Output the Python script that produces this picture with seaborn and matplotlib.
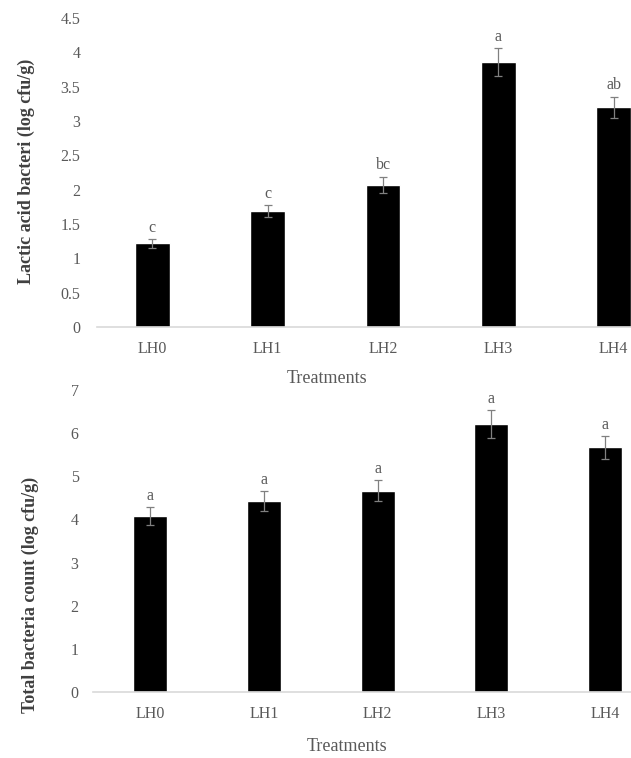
import numpy as np
import seaborn as sns
import matplotlib.pyplot as plt
from matplotlib.ticker import FuncFormatter, MultipleLocator

treatments = ["LH0", "LH1", "LH2", "LH3", "LH4"]

lab_mean = [1.22, 1.69, 2.07, 3.86, 3.20]
lab_err = [0.065, 0.085, 0.12, 0.20, 0.155]
lab_letters = ["c", "c", "bc", "a", "ab"]

tbc_mean = [4.08, 4.42, 4.67, 6.21, 5.67]
tbc_err = [0.21, 0.23, 0.235, 0.32, 0.27]
tbc_letters = ["a", "a", "a", "a", "a"]

sns.set_style("white")
plt.rcParams["font.family"] = ["Liberation Serif", "DejaVu Serif"]

grey = "#595959"

fig = plt.figure(figsize=(6.31, 7.58), dpi=100)
ax1 = fig.add_axes([0.1537, 0.5686, 0.8463, 0.4077])
ax2 = fig.add_axes([0.1466, 0.0871, 0.8534, 0.3984])


def draw(ax, means, errs, letters, ylabel, ymax, step, xlim, ypad, xlab_xy, ylab_xy):
    sns.barplot(x=treatments, y=means, color="black", saturation=1, width=0.3,
                errorbar=None, ax=ax)
    ax.errorbar(range(len(treatments)), means, yerr=errs, fmt="none",
                ecolor="#808080", elinewidth=0.9, capsize=3, capthick=0.9)
    for i, (m, e, t) in enumerate(zip(means, errs, letters)):
        ax.annotate(t, (i, m + e), xytext=(0, 8), textcoords="offset points",
                    ha="center", va="center", fontsize=11.5, color=grey)
    ax.set_ylim(0, ymax)
    ax.set_xlim(*xlim)
    ax.yaxis.set_major_locator(MultipleLocator(step))
    ax.yaxis.set_major_formatter(FuncFormatter(lambda v, p: f"{v:g}"))
    for s in ["left", "top", "right"]:
        ax.spines[s].set_visible(False)
    ax.spines["bottom"].set_color("#d9d9d9")
    ax.spines["bottom"].set_linewidth(1.2)
    ax.tick_params(axis="x", length=0, pad=10, labelsize=11.5, labelcolor=grey)
    ax.tick_params(axis="y", length=0, pad=ypad, labelsize=11.5, labelcolor=grey)
    ax.set_xlabel("Treatments", fontsize=13, color=grey, va="center")
    ax.xaxis.set_label_coords(*xlab_xy)
    ax.set_ylabel(ylabel, fontsize=13, fontweight="bold", color="#404040", va="center")
    ax.yaxis.set_label_coords(*ylab_xy)


draw(ax1, lab_mean, lab_err, lab_letters, "Lactic acid bacteri (log cfu/g)",
     4.5, 0.5, (-0.48, 4.15), 12, (0.431, -0.168), (-0.133, 0.505))
draw(ax2, tbc_mean, tbc_err, tbc_letters, "Total bacteria count (log cfu/g)",
     7, 1, (-0.51, 4.23), 10, (0.473, -0.182), (-0.116, 0.32))

fig.savefig("out.png", dpi=100)
